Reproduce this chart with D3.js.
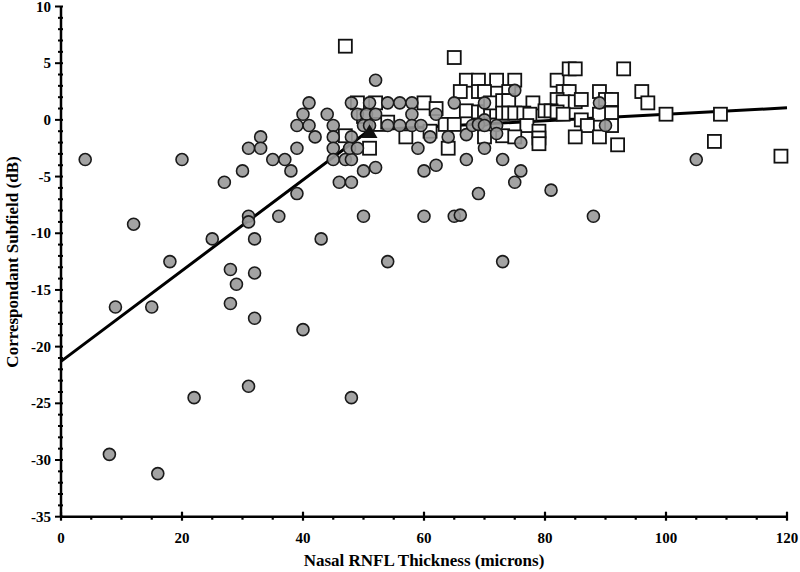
<!DOCTYPE html>
<html><head><meta charset="utf-8">
<script src="https://cdn.jsdelivr.net/npm/d3@7"></script>
<style>body{margin:0;background:#fff}svg{display:block}</style>
</head><body>
<svg id="c" width="800" height="572"></svg>
<script>
// Group 1 (grey circles)
const circleX = [4,20,12,25,18,27,30,31,33,33,35,37,38,39,39,31,31,32,28,32,29,9,15,28,32,22,31,8,16,
  41,40,39,41,42,44,45,45,45,45,47,48,46,48,50,52,48,51,49,50.5,52,50,51,48,47.7,49,36,43,50,54,40,48,52,
  54,56,58,65,62,58,70,70,54,56,58,59.5,61,64,59,67,68,69,70,70,67,73,75,72,72,76,60,62,76,75,69,81,60,65,66,88,73,89,90,105];
const circleY = [-3.5,-3.5,-9.2,-10.5,-12.5,-5.5,-4.5,-2.5,-1.5,-2.5,-3.5,-3.5,-4.5,-2.5,-6.5,-8.5,-9.0,-10.5,-13.2,-13.5,-14.5,-16.5,-16.5,-16.2,-17.5,-24.5,-23.5,-29.5,-31.2,
  1.5,0.5,-0.5,-0.5,-1.5,0.5,-0.5,-1.5,-2.5,-3.5,-3.5,-3.5,-5.5,-5.5,-4.5,-4.2,1.5,1.5,0.5,0.5,0.5,-0.5,-0.5,-1.5,-2.5,-2.5,-8.5,-10.5,-8.5,-12.5,-18.5,-24.5,3.5,
  1.5,1.5,1.5,1.5,0.5,0.5,1.5,0,-0.5,-0.5,-0.5,-0.5,-1.5,-1.5,-2.5,-1.3,-0.5,-0.4,-0.5,-2.5,-3.5,-3.5,2.6,-0.5,-1.2,-2,-4.5,-4.0,-4.5,-5.5,-6.5,-6.2,-8.5,-8.5,-8.4,-8.5,-12.5,1.5,-0.5,-3.5];
// Group 2 (open squares)
const squareX = [47,65,67,69,72,75,82,84,85,93,66,69,70,74,83,84,89,96,
  49,52,60,62,67,69,70,71,72,71,73,74,78,82,83,85,86,90,91,97,
  73,74,75,76.5,77.5,80,81,82,83,89,91,100,109,
  50,52.5,54,63.5,65,61,77,86,87,91,
  47,51,57,64,70,73,75,79,79,79,85,89,92,108,119];
const squareY = [6.5,5.5,3.5,3.5,3.5,3.5,3.5,4.5,4.5,4.5,2.5,2.5,2.5,2.5,2.5,2.5,2.5,2.5,
  1.5,1.5,1.5,1.0,0.8,0.7,0.7,0.7,0.7,1.5,1.7,1.7,1.5,1.8,1.6,1.6,1.8,1.8,1.8,1.5,
  0.6,0.6,0.6,0.6,0.5,0.8,0.8,0.7,0.5,0.5,0.6,0.5,0.5,
  0.3,-0.4,-0.2,-0.4,-0.4,-1.0,-0.5,0,-0.5,-0.5,
  -1.4,-2.5,-1.5,-2.5,-1.5,-1.4,-1.5,-1.0,-1.6,-2.1,-1.5,-1.5,-2.2,-1.9,-3.2];
// Broken-stick regression
const fitX = [0,51,120];
const fitY = [-21.3,-0.9,1.06];
const breakX = [51], breakY = [-1.2];
const xTicks = [0,20,40,60,80,100,120];
const yTicks = [10,5,0,-5,-10,-15,-20,-25,-30,-35];

const svg = d3.select('#c');
const x = d3.scaleLinear().domain([0,120]).range([61,787]);
const y = d3.scaleLinear().domain([-35,10]).range([516.7,6.5]);
const font = '"Liberation Serif","Times New Roman",serif';

// line
svg.append('path')
  .attr('d', d3.line().x(d=>x(d[0])).y(d=>y(d[1]))(fitX.map((v,i)=>[v,fitY[i]])))
  .attr('fill','none').attr('stroke','#000').attr('stroke-width',3);

// squares
const s = 13;
svg.append('g').selectAll('rect').data(squareX.map((v,i)=>[v,squareY[i]])).join('rect')
  .attr('x',d=>x(d[0])-s/2).attr('y',d=>y(d[1])-s/2).attr('width',s).attr('height',s)
  .attr('fill','#fff').attr('stroke','#111').attr('stroke-width',1.8);
// circles
svg.append('g').selectAll('circle').data(circleX.map((v,i)=>[v,circleY[i]])).join('circle')
  .attr('cx',d=>x(d[0])).attr('cy',d=>y(d[1])).attr('r',6)
  .attr('fill','#999').attr('fill-opacity',0.9).attr('stroke','#1a1a1a').attr('stroke-width',1.6);
// break triangle
svg.append('g').selectAll('path').data(breakX.map((v,i)=>[v,breakY[i]])).join('path')
  .attr('d', d3.symbol().type(d3.symbolTriangle).size(110)())
  .attr('transform',d=>`translate(${x(d[0])},${y(d[1])})`).attr('fill','#111');

// axes
const ax = svg.append('g').attr('stroke','#000');
ax.append('line').attr('x1',x(0)).attr('x2',x(120)).attr('y1',y(-35)).attr('y2',y(-35)).attr('stroke-width',2.5);
ax.append('line').attr('x1',x(0)).attr('x2',x(0)).attr('y1',y(10)).attr('y2',y(-35)).attr('stroke-width',2.5);
ax.selectAll('.xm').data(d3.range(0,121,5)).join('line')
  .attr('x1',d=>x(d)).attr('x2',d=>x(d))
  .attr('y1',d=>y(-35)-(d%20===0?5:0)).attr('y2',d=>y(-35)+(d%20===0?4:3))
  .attr('stroke-width',2.2);
ax.selectAll('.ym').data(d3.range(-35,11,1)).join('line')
  .attr('y1',d=>y(d)).attr('y2',d=>y(d))
  .attr('x1',d=>x(0)-(d%5===0?6:3)).attr('x2',d=>x(0)+(d%5===0?2:2))
  .attr('stroke-width',2);

svg.append('g').selectAll('text').data(xTicks).join('text')
  .attr('x',d=>x(d)).attr('y',543).attr('text-anchor','middle')
  .attr('font-family',font).attr('font-weight','bold').attr('font-size',15).text(d=>d);
svg.append('g').selectAll('text').data(yTicks).join('text')
  .attr('x',51).attr('y',d=>y(d)+5).attr('text-anchor','end')
  .attr('font-family',font).attr('font-weight','bold').attr('font-size',15).text(d=>d);

svg.append('text').attr('x',424).attr('y',566).attr('text-anchor','middle')
  .attr('font-family',font).attr('font-weight','bold').attr('font-size',17)
  .text('Nasal RNFL Thickness (microns)');
svg.append('text').attr('transform','translate(18,262) rotate(-90)').attr('text-anchor','middle')
  .attr('font-family',font).attr('font-weight','bold').attr('font-size',17)
  .text('Correspondant Subfield (dB)');
</script>
</body></html>
